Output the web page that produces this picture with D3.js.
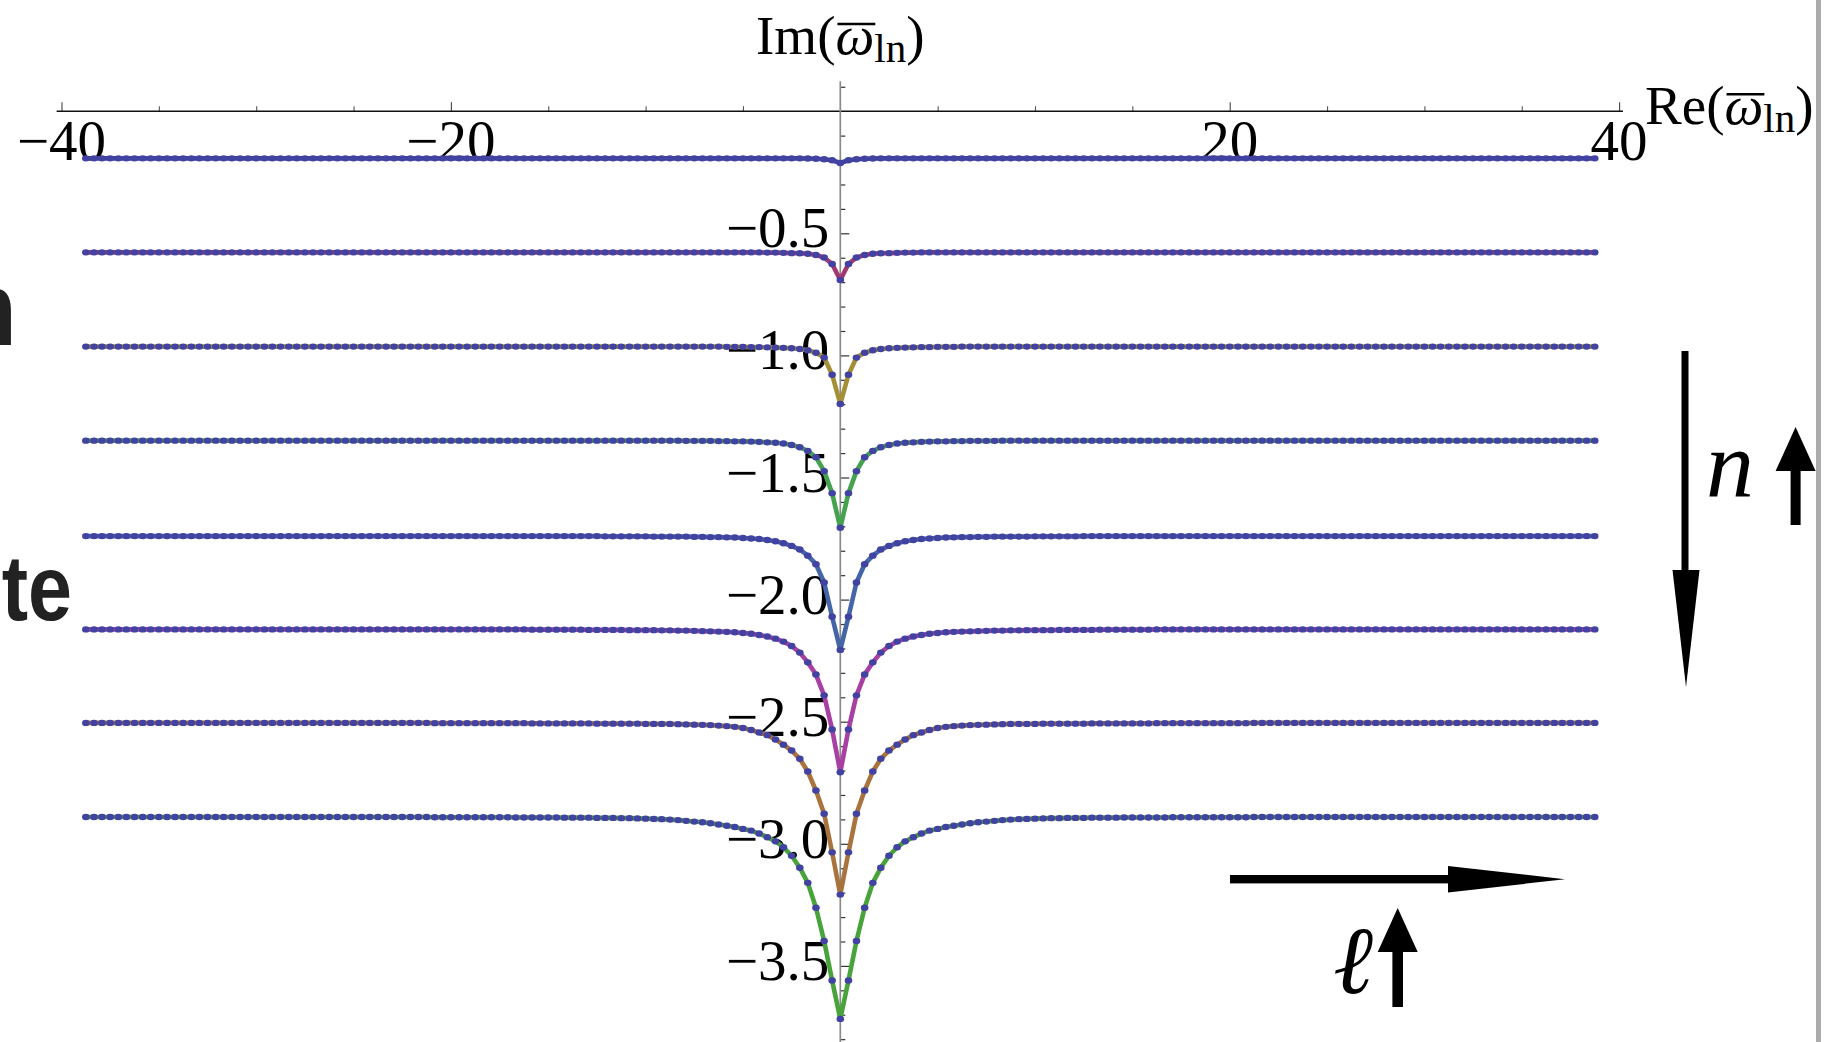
<!DOCTYPE html>
<html>
<head>
<meta charset="utf-8">
<script src="https://cdn.jsdelivr.net/npm/d3@7"></script>
<style>
  html, body { margin: 0; padding: 0; background: #fff; overflow: hidden; }
  svg { display: block; }
</style>
</head>
<body>
<svg id="chart" width="1829" height="1042"></svg>
<script>
// Re(ω_ln) of the modes ℓ = 0, 1, 2, ... (the ±Re pair is drawn for each mode)
const reOmega = [
  0, 0.42, 0.83, 1.25, 1.67, 2.08, 2.5, 2.92, 3.33, 3.75,
  4.17, 4.58, 5, 5.42, 5.83, 6.25, 6.67, 7.08, 7.5, 7.92,
  8.33, 8.75, 9.17, 9.58, 10, 10.42, 10.83, 11.25, 11.67, 12.08,
  12.5, 12.92, 13.33, 13.75, 14.17, 14.58, 15, 15.42, 15.83, 16.25,
  16.67, 17.08, 17.5, 17.92, 18.33, 18.75, 19.17, 19.58, 20, 20.42,
  20.83, 21.25, 21.67, 22.08, 22.5, 22.92, 23.33, 23.75, 24.17, 24.58,
  25, 25.42, 25.83, 26.25, 26.67, 27.08, 27.5, 27.92, 28.33, 28.75,
  29.17, 29.58, 30, 30.42, 30.83, 31.25, 31.67, 32.08, 32.5, 32.92,
  33.33, 33.75, 34.17, 34.58, 35, 35.42, 35.83, 36.25, 36.67, 37.08,
  37.5, 37.92, 38.33, 38.75
];

// Im(ω_ln) for each overtone n, one value per entry of reOmega
const imN0 = [
  -0.212, -0.201, -0.197, -0.195, -0.194, -0.193, -0.193, -0.193, -0.193, -0.193,
  -0.193, -0.193, -0.193, -0.193, -0.193, -0.193, -0.193, -0.193, -0.193, -0.193,
  -0.193, -0.193, -0.193, -0.193, -0.193, -0.193, -0.193, -0.193, -0.193, -0.193,
  -0.193, -0.193, -0.193, -0.193, -0.193, -0.193, -0.193, -0.193, -0.193, -0.193,
  -0.193, -0.193, -0.193, -0.193, -0.193, -0.193, -0.193, -0.193, -0.193, -0.193,
  -0.193, -0.193, -0.193, -0.193, -0.193, -0.193, -0.193, -0.193, -0.193, -0.193,
  -0.193, -0.193, -0.193, -0.193, -0.193, -0.193, -0.193, -0.193, -0.193, -0.193,
  -0.193, -0.193, -0.193, -0.193, -0.193, -0.193, -0.193, -0.193, -0.193, -0.193,
  -0.193, -0.193, -0.193, -0.193, -0.193, -0.193, -0.193, -0.193, -0.193, -0.193,
  -0.193, -0.193, -0.193, -0.193
];
const imN1 = [
  -0.691, -0.626, -0.599, -0.589, -0.584, -0.582, -0.581, -0.580, -0.579, -0.579,
  -0.578, -0.578, -0.578, -0.578, -0.578, -0.578, -0.578, -0.578, -0.578, -0.578,
  -0.578, -0.578, -0.578, -0.578, -0.578, -0.578, -0.578, -0.578, -0.578, -0.578,
  -0.578, -0.578, -0.578, -0.578, -0.578, -0.578, -0.578, -0.578, -0.578, -0.578,
  -0.578, -0.578, -0.578, -0.578, -0.578, -0.578, -0.578, -0.578, -0.578, -0.578,
  -0.578, -0.578, -0.578, -0.578, -0.578, -0.578, -0.578, -0.578, -0.578, -0.578,
  -0.578, -0.578, -0.578, -0.578, -0.578, -0.578, -0.578, -0.578, -0.578, -0.578,
  -0.578, -0.578, -0.578, -0.578, -0.578, -0.578, -0.578, -0.578, -0.578, -0.578,
  -0.578, -0.578, -0.578, -0.578, -0.578, -0.578, -0.578, -0.578, -0.578, -0.578,
  -0.578, -0.578, -0.578, -0.578
];
const imN2 = [
  -1.199, -1.079, -1.009, -0.989, -0.979, -0.974, -0.971, -0.969, -0.968, -0.967,
  -0.966, -0.966, -0.965, -0.965, -0.965, -0.964, -0.964, -0.964, -0.964, -0.964,
  -0.964, -0.964, -0.964, -0.964, -0.964, -0.964, -0.964, -0.964, -0.964, -0.964,
  -0.964, -0.964, -0.964, -0.964, -0.964, -0.964, -0.964, -0.964, -0.964, -0.964,
  -0.964, -0.964, -0.964, -0.964, -0.964, -0.964, -0.964, -0.964, -0.964, -0.964,
  -0.964, -0.964, -0.964, -0.964, -0.964, -0.964, -0.964, -0.964, -0.964, -0.964,
  -0.964, -0.964, -0.964, -0.964, -0.964, -0.964, -0.964, -0.964, -0.964, -0.964,
  -0.964, -0.964, -0.964, -0.964, -0.964, -0.964, -0.964, -0.964, -0.964, -0.964,
  -0.964, -0.964, -0.964, -0.964, -0.964, -0.964, -0.964, -0.964, -0.964, -0.964,
  -0.964, -0.964, -0.964, -0.964
];
const imN3 = [
  -1.706, -1.564, -1.474, -1.417, -1.391, -1.376, -1.367, -1.361, -1.358, -1.356,
  -1.354, -1.353, -1.352, -1.352, -1.351, -1.351, -1.350, -1.350, -1.350, -1.350,
  -1.349, -1.349, -1.349, -1.349, -1.349, -1.349, -1.349, -1.349, -1.349, -1.349,
  -1.349, -1.349, -1.349, -1.349, -1.349, -1.349, -1.349, -1.349, -1.349, -1.349,
  -1.349, -1.349, -1.349, -1.349, -1.349, -1.349, -1.349, -1.349, -1.349, -1.349,
  -1.349, -1.349, -1.349, -1.349, -1.349, -1.349, -1.349, -1.349, -1.349, -1.349,
  -1.349, -1.349, -1.349, -1.349, -1.349, -1.349, -1.349, -1.349, -1.349, -1.349,
  -1.349, -1.349, -1.349, -1.349, -1.349, -1.349, -1.349, -1.349, -1.349, -1.349,
  -1.349, -1.349, -1.349, -1.349, -1.349, -1.349, -1.349, -1.349, -1.349, -1.349,
  -1.349, -1.349, -1.349, -1.349
];
const imN4 = [
  -2.206, -2.070, -1.930, -1.855, -1.820, -1.795, -1.780, -1.769, -1.761, -1.756,
  -1.752, -1.750, -1.748, -1.746, -1.745, -1.744, -1.744, -1.743, -1.743, -1.742,
  -1.742, -1.742, -1.742, -1.742, -1.741, -1.741, -1.741, -1.741, -1.741, -1.741,
  -1.740, -1.740, -1.740, -1.740, -1.740, -1.740, -1.740, -1.740, -1.740, -1.740,
  -1.740, -1.740, -1.740, -1.740, -1.740, -1.740, -1.740, -1.740, -1.740, -1.740,
  -1.740, -1.740, -1.740, -1.740, -1.740, -1.740, -1.740, -1.740, -1.740, -1.740,
  -1.740, -1.740, -1.740, -1.740, -1.740, -1.740, -1.740, -1.740, -1.740, -1.740,
  -1.740, -1.740, -1.740, -1.740, -1.740, -1.740, -1.740, -1.740, -1.740, -1.740,
  -1.740, -1.740, -1.740, -1.740, -1.740, -1.740, -1.740, -1.740, -1.740, -1.740,
  -1.740, -1.740, -1.740, -1.740
];
const imN5 = [
  -2.707, -2.532, -2.392, -2.307, -2.257, -2.217, -2.190, -2.172, -2.160, -2.151,
  -2.145, -2.140, -2.137, -2.134, -2.132, -2.131, -2.130, -2.129, -2.128, -2.127,
  -2.127, -2.126, -2.126, -2.125, -2.125, -2.125, -2.125, -2.124, -2.124, -2.124,
  -2.124, -2.124, -2.123, -2.123, -2.123, -2.123, -2.123, -2.123, -2.123, -2.122,
  -2.122, -2.122, -2.122, -2.122, -2.122, -2.122, -2.122, -2.122, -2.122, -2.122,
  -2.122, -2.122, -2.122, -2.122, -2.122, -2.122, -2.122, -2.122, -2.122, -2.122,
  -2.122, -2.122, -2.122, -2.122, -2.122, -2.122, -2.122, -2.122, -2.122, -2.122,
  -2.122, -2.122, -2.122, -2.122, -2.122, -2.122, -2.122, -2.122, -2.122, -2.122,
  -2.122, -2.122, -2.122, -2.122, -2.122, -2.122, -2.122, -2.122, -2.122, -2.122,
  -2.122, -2.122, -2.122, -2.122
];
const imN6 = [
  -3.208, -3.035, -2.877, -2.782, -2.704, -2.652, -2.618, -2.594, -2.573, -2.555,
  -2.544, -2.534, -2.526, -2.521, -2.518, -2.516, -2.514, -2.513, -2.512, -2.511,
  -2.510, -2.509, -2.509, -2.509, -2.509, -2.508, -2.508, -2.508, -2.508, -2.508,
  -2.508, -2.507, -2.507, -2.507, -2.507, -2.507, -2.507, -2.507, -2.507, -2.506,
  -2.506, -2.506, -2.506, -2.506, -2.506, -2.506, -2.506, -2.506, -2.506, -2.506,
  -2.506, -2.505, -2.505, -2.505, -2.505, -2.505, -2.505, -2.505, -2.505, -2.505,
  -2.505, -2.505, -2.505, -2.505, -2.505, -2.505, -2.505, -2.505, -2.505, -2.505,
  -2.505, -2.505, -2.505, -2.505, -2.505, -2.505, -2.505, -2.505, -2.505, -2.505,
  -2.505, -2.505, -2.505, -2.505, -2.505, -2.505, -2.505, -2.505, -2.505, -2.505,
  -2.505, -2.505, -2.505, -2.505
];
const imN7 = [
  -3.717, -3.560, -3.398, -3.262, -3.160, -3.098, -3.049, -3.014, -2.990, -2.973,
  -2.958, -2.946, -2.939, -2.931, -2.926, -2.921, -2.916, -2.912, -2.909, -2.906,
  -2.903, -2.901, -2.899, -2.898, -2.897, -2.896, -2.895, -2.895, -2.894, -2.894,
  -2.894, -2.893, -2.893, -2.893, -2.893, -2.892, -2.892, -2.892, -2.892, -2.892,
  -2.892, -2.891, -2.891, -2.891, -2.891, -2.891, -2.891, -2.891, -2.891, -2.891,
  -2.891, -2.890, -2.890, -2.890, -2.890, -2.890, -2.890, -2.890, -2.890, -2.890,
  -2.890, -2.890, -2.890, -2.890, -2.890, -2.890, -2.890, -2.890, -2.890, -2.890,
  -2.890, -2.890, -2.890, -2.890, -2.890, -2.890, -2.890, -2.890, -2.890, -2.890,
  -2.890, -2.890, -2.890, -2.890, -2.890, -2.890, -2.890, -2.890, -2.890, -2.890,
  -2.890, -2.890, -2.890, -2.890
];

const overtones = [imN0, imN1, imN2, imN3, imN4, imN5, imN6, imN7];
const lineColors = ["#4040a0", "#a3386f", "#a39036", "#45a34f", "#4466a6", "#a83fa3", "#a8733d", "#48a33b"];
const pointColor = "#4242a2";

const xMajorTicks = [-40, -20, 20, 40];
const xMinorTicks = [-35, -30, -25, -15, -10, -5, 5, 10, 15, 25, 30, 35];
const yMajorTicks = [-0.5, -1.0, -1.5, -2.0, -2.5, -3.0, -3.5];

const serif = "'Liberation Serif','Times New Roman',serif";
const minus = "\u2212";
const fmt = (v, d) => (v < 0 ? minus : "") + Math.abs(v).toFixed(d);

const svg = d3.select("#chart");
const x = d3.scaleLinear().domain([-40, 40]).range([61.5, 1619.1]);
const y = d3.scaleLinear().domain([0, -3.5]).range([111.2, 965.9]);
const x0 = x(0), y0 = y(0);

// ---- axes ----
const axes = svg.append("g");

// horizontal axis: ticks point up, labels sit below
axes.append("g").attr("transform", `translate(0,${y0})`)
  .call(d3.axisTop(x).tickValues(xMinorTicks).tickSize(5).tickFormat(""))
  .call(g => g.select(".domain").remove())
  .call(g => g.selectAll("line").attr("stroke", "#555").attr("stroke-width", 1.1));
axes.append("g").attr("transform", `translate(0,${y0})`)
  .call(d3.axisTop(x).tickValues(xMajorTicks).tickSize(9).tickFormat(""))
  .call(g => g.select(".domain").remove())
  .call(g => g.selectAll("line").attr("stroke", "#444").attr("stroke-width", 1.1));
axes.append("line")
  .attr("x1", x(-40.25)).attr("x2", x(40.2))
  .attr("y1", y0).attr("y2", y0)
  .attr("stroke", "#111").attr("stroke-width", 1.5);

// vertical axis: ticks point right
const yMinorTicks = d3.range(-38, 2).map(i => i / 10)
  .filter(v => Math.abs(v * 2 - Math.round(v * 2)) > 1e-6);
axes.append("g").attr("transform", `translate(${x0},0)`)
  .call(d3.axisRight(y).tickValues(yMinorTicks).tickSize(5).tickFormat(""))
  .call(g => g.select(".domain").remove())
  .call(g => g.selectAll("line").attr("stroke", "#333").attr("stroke-width", 1.2));
axes.append("g").attr("transform", `translate(${x0},0)`)
  .call(d3.axisRight(y).tickValues(yMajorTicks).tickSize(9).tickFormat(""))
  .call(g => g.select(".domain").remove())
  .call(g => g.selectAll("line").attr("stroke", "#333").attr("stroke-width", 1.2));
axes.append("line")
  .attr("x1", x0).attr("x2", x0)
  .attr("y1", y(0.123)).attr("y2", y(-3.9))
  .attr("stroke", "#8a8a8a").attr("stroke-width", 1.7);

// tick labels
const labels = svg.append("g").attr("font-family", serif).attr("font-size", 57).attr("fill", "#000");
labels.selectAll("text.xl").data(xMajorTicks).join("text")
  .attr("class", "xl")
  .attr("x", d => x(d)).attr("y", y0 + 49)
  .attr("text-anchor", "middle")
  .text(d => fmt(d, 0));
labels.selectAll("text.yl").data(yMajorTicks).join("text")
  .attr("class", "yl")
  .attr("x", x0 - 11).attr("y", d => y(d) + 14)
  .attr("text-anchor", "end")
  .text(d => fmt(d, 1));

// axis titles: Re(ω̄_ln) and Im(ω̄_ln)
function omegaTitle(prefix, px, baseline, anchor) {
  const g = svg.append("g");
  const t = g.append("text")
    .attr("x", px).attr("y", baseline)
    .attr("text-anchor", anchor)
    .attr("font-family", serif).attr("font-size", 55).attr("fill", "#000");
  t.append("tspan").text(prefix + "(");
  t.append("tspan").attr("font-style", "italic").text("\u03c9");
  t.append("tspan").attr("font-size", 41).attr("dy", 8).text("ln");
  t.append("tspan").attr("dy", -8).text(")");
  const box = t.node().getExtentOfChar(prefix.length + 1);
  g.append("line")
    .attr("x1", box.x + 2).attr("x2", box.x + box.width + 1)
    .attr("y1", baseline - 30).attr("y2", baseline - 30)
    .attr("stroke", "#000").attr("stroke-width", 2.4);
}
omegaTitle("Im", x0, 54, "middle");
omegaTitle("Re", x(40) + 26, y0 + 13, "start");

// ---- mode curves ----
function seriesPoints(im) {
  const right = reOmega.map((r, i) => ({ re: r, im: im[i] }));
  const left = right.slice(1).reverse().map(d => ({ re: -d.re, im: d.im }));
  return left.concat(right);
}
const series = overtones.map(seriesPoints);
const line = d3.line().x(d => x(d.re)).y(d => y(d.im));

const plot = svg.append("g");
plot.selectAll("path.mode").data(series).join("path")
  .attr("class", "mode")
  .attr("d", line)
  .attr("fill", "none")
  .attr("stroke", (d, i) => lineColors[i])
  .attr("stroke-width", 4.6)
  .attr("stroke-linejoin", "round");
series.forEach(pts => {
  plot.append("g").selectAll("ellipse").data(pts).join("ellipse")
    .attr("cx", d => x(d.re)).attr("cy", d => y(d.im))
    .attr("rx", 3.8).attr("ry", 3.2)
    .attr("fill", pointColor);
});

// ---- direction arrows with n and ℓ ----
const ann = svg.append("g").attr("fill", "#000");
// long arrow pointing down
ann.append("rect").attr("x", 1681.5).attr("y", 351).attr("width", 7).attr("height", 222);
ann.append("path").attr("d", "M1672.5,570 L1699.5,570 L1686,687 Z");
// n with its small upward arrow
ann.append("text").attr("x", 1706).attr("y", 497)
  .attr("font-family", serif).attr("font-style", "italic").attr("font-size", 96).text("n");
ann.append("rect").attr("x", 1790.6).attr("y", 468).attr("width", 10).attr("height", 57);
ann.append("path").attr("d", "M1775.6,471 L1815.6,471 L1795.6,427 Z");
// long arrow pointing right
ann.append("rect").attr("x", 1230).attr("y", 875).attr("width", 221).attr("height", 8.4);
ann.append("path").attr("d", "M1448,866 L1448,892.5 L1565,879.2 Z");
// ℓ with its small upward arrow
ann.append("text").attr("x", 1333).attr("y", 993)
  .attr("font-family", "'Liberation Serif','DejaVu Serif',serif").attr("font-style", "italic")
  .attr("font-size", 96).text("\u2113");
ann.append("rect").attr("x", 1392.4).attr("y", 949).attr("width", 10.6).attr("height", 58);
ann.append("path").attr("d", "M1377.7,952 L1417.7,952 L1397.7,908 Z");

// ---- surrounding page fragments (condensed bold headline letters) ----
const side = svg.append("g").attr("fill", "#222")
  .attr("font-family", "'Liberation Sans','Arial',sans-serif")
  .attr("font-weight", "bold");
side.append("text").attr("transform", "translate(16,345) scale(0.8,1)")
  .attr("text-anchor", "end").attr("font-size", 104).text("n");
side.append("text").attr("transform", "translate(72,620) scale(0.86,1)")
  .attr("text-anchor", "end").attr("font-size", 92).text("te");
svg.append("rect").attr("x", 1816).attr("y", 0).attr("width", 5).attr("height", 1042).attr("fill", "#ababab");
</script>
</body>
</html>
